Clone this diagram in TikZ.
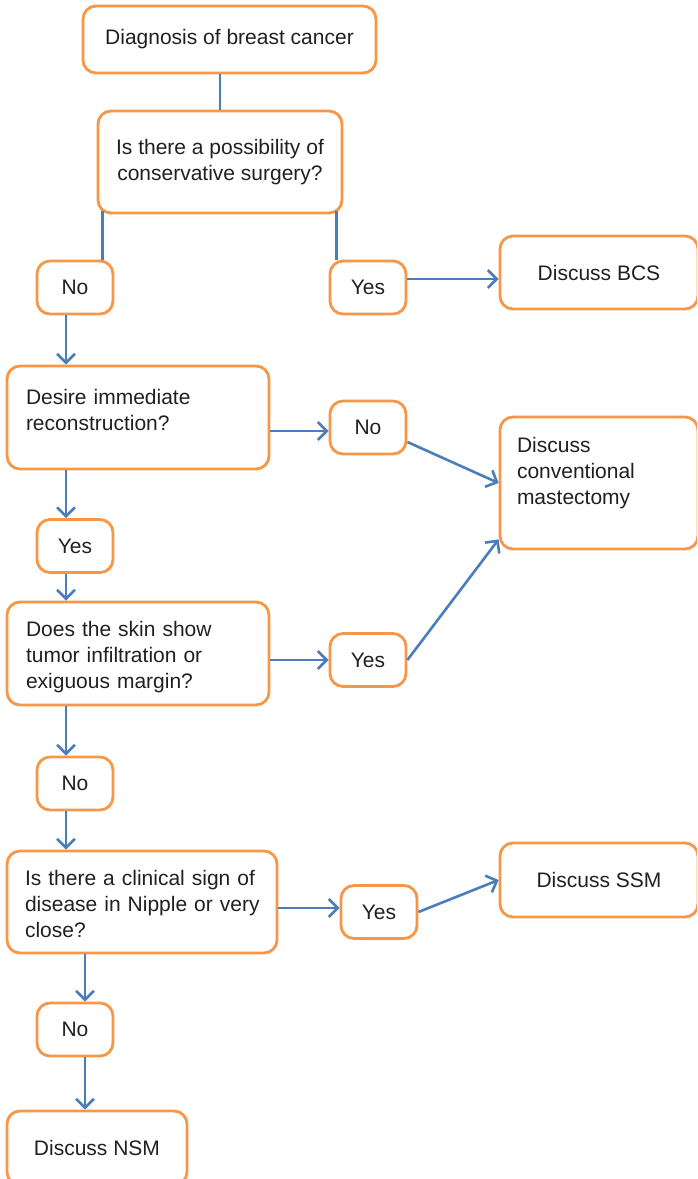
\documentclass[tikz,border=0pt]{standalone}
\usepackage{fontspec}
\setmainfont{Liberation Sans}
\usepackage{tikz}
\usetikzlibrary{arrows.meta}

\definecolor{boxorange}{RGB}{247,150,70}
\definecolor{linkblue}{RGB}{74,126,187}
\definecolor{inkgrey}{RGB}{35,31,32}

\tikzset{
	box/.style={draw=boxorange, line width=2.8pt, rounded corners=13pt, text=inkgrey,
		font=\fontsize{21}{26}\selectfont, inner sep=0pt},
	answer/.style={box, minimum width=76pt, minimum height=53pt},
	ask/.style={box, align=left, inner xsep=19pt, text height=16pt},
	link/.style={draw=linkblue, line width=2.6pt},
	arr/.style={link, -{Straight Barb[length=9pt,width=18pt]}},
}

\begin{document}
\begin{tikzpicture}[x=1pt, y=-1pt]
			%%%%% START %%%%%
			\useasboundingbox (0,0) rectangle (697,1179);
			\clip (0,0) rectangle (697,1179);
			
			\node[box, minimum width=293pt, minimum height=67pt] (diag) at (229.5,39.5) {Diagnosis of breast cancer};
			\node[box, align=center, minimum width=244pt, minimum height=102pt] (poss) at (220,162) {Is there a possibility of\\conservative surgery?};
			
			\node[answer] (no1) at (75,287.5) {No};
			\node[answer] (yes1) at (368,287.5) {Yes};
			\node[box, minimum width=198pt, minimum height=73pt] (bcs) at (599,272.5) {Discuss BCS};
			
			\node[ask, text width=224pt, text depth=43pt, minimum height=103pt] (desire) at (138,417.5) {Desire immediate\\reconstruction?};
			\node[answer] (no2) at (368,427.5) {No};
			\node[ask, inner xsep=17pt, text width=164pt, text depth=78pt, minimum height=132pt] (mast) at (599,483) {Discuss\\conventional\\mastectomy};
			\node[answer] (yes2) at (75,546) {Yes};
			
			\node[ask, text width=224pt, text depth=51pt, minimum height=103pt] (skin) at (138,653.5) {Does the skin show\\tumor infiltration or\\exiguous margin?};
			\node[answer] (yes3) at (368,660) {Yes};
			\node[answer] (no3) at (75,783.5) {No};
			
			\node[ask, inner xsep=18pt, text width=234pt, text depth=50pt, minimum height=102pt] (nip) at (142,902) {Is there a clinical sign of\\\mbox{disease in Nipple or very}\\close?};
			\node[answer] (yes4) at (379,912) {Yes};
			\node[box, minimum width=198pt, minimum height=74pt] (ssm) at (599,880) {Discuss SSM};
			\node[answer] (no4) at (75,1029.5) {No};
			\node[box, minimum width=180pt, minimum height=74pt] (nsm) at (97,1148) {Discuss NSM};
			
			% links
			\draw[link] (diag.south -| poss.north) -- (poss.north);
			\draw[link] ([xshift=6pt,yshift=3pt]poss.south west) -- ([xshift=6pt]poss.south west |- no1.north);
			\draw[link] ([xshift=-7pt,yshift=3pt]poss.south east) -- ([xshift=-7pt]poss.south east |- yes1.north);
			\draw[arr] ([yshift=8.5pt]yes1.east) -- ([yshift=8.5pt]yes1.east -| bcs.west);
			
			\draw[arr] ([xshift=-9pt]no1.south) -- ([xshift=-9pt]no1.south |- desire.north);
			\draw[arr] ([yshift=-3.5pt]no2.west -| desire.east) -- ([yshift=-3.5pt]no2.west);
			\draw[arr] ([yshift=-14.5pt]no2.east) -- (mast.west);
			\draw[arr] ([xshift=-9pt]yes2.north |- desire.south) -- ([xshift=-9pt]yes2.north);
			\draw[arr] ([xshift=-9pt]yes2.south) -- ([xshift=-9pt]yes2.south |- skin.north);
			
			\draw[arr] (yes3.west -| skin.east) -- (yes3.west);
			\draw[arr] (yes3.east) -- ([yshift=11pt]mast.south west);
			\draw[arr] ([xshift=-9pt]no3.north |- skin.south) -- ([xshift=-9pt]no3.north);
			\draw[arr] ([xshift=-9pt]no3.south) -- ([xshift=-9pt]no3.south |- nip.north);
			
			\draw[arr] ([yshift=4pt]yes4.west -| nip.east) -- ([yshift=4pt]yes4.west);
			\draw[arr] (yes4.east) -- (ssm.west);
			\draw[arr] ([xshift=10pt]no4.north |- nip.south) -- ([xshift=10pt]no4.north);
			\draw[arr] ([xshift=10pt]no4.south) -- ([xshift=10pt]no4.south |- nsm.north);
			%%%%% END %%%%%
\end{tikzpicture}
\end{document}
